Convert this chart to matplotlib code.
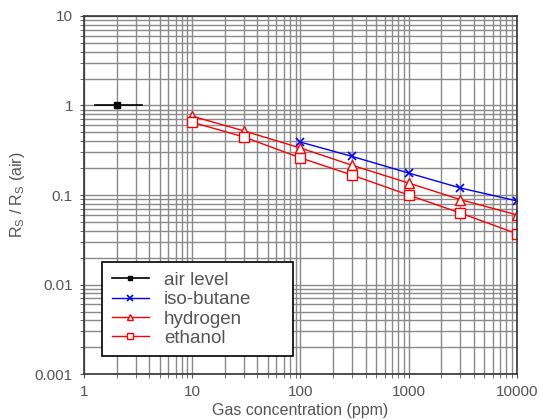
import numpy as np
import matplotlib.pyplot as plt

plt.rcParams['font.family'] = ['Liberation Sans', 'DejaVu Sans']

# values
air_x = [2]
air_y = [1.0]
air_xerr_lo = [1.26]
air_xerr_hi = [3.4]

conc_butane = [100, 300, 1000, 3000, 10000]
rs_butane = [0.39, 0.27, 0.176, 0.12, 0.086]

conc_h2 = [10, 30, 100, 300, 1000, 3000, 10000]
rs_h2 = [0.76, 0.52, 0.335, 0.215, 0.136, 0.089, 0.06]

conc_etoh = [10, 30, 100, 300, 1000, 3000, 10000]
rs_etoh = [0.65, 0.445, 0.26, 0.167, 0.10, 0.063, 0.037]

xticks = [1, 10, 100, 1000, 10000]
yticks = [0.001, 0.01, 0.1, 1, 10]

fig = plt.figure(figsize=(5.39, 4.19), dpi=100)
ax = fig.add_axes([0.156, 0.107, 0.803, 0.855])
ax.set_xscale("log")
ax.set_yscale("log")
ax.set_xlim(1, 10000)
ax.set_ylim(0.001, 10)

ax.grid(True, which="both", color="#8a8a8a", lw=1.0)
ax.set_axisbelow(True)

# air level: a short horizontal bar around the marker
ax.plot([air_xerr_lo[0], air_xerr_hi[0]], [air_y[0], air_y[0]], color="black", lw=1.2)
ax.plot(air_x, air_y, color="black", marker="s", ms=4, lw=1.2, label="air level")

ax.plot(conc_butane, rs_butane, color="blue", marker="x", ms=6, mew=1.2, lw=1.0, label="iso-butane")
ax.plot(conc_h2, rs_h2, color="red", marker="^", ms=7, mfc="white", mew=1.0, lw=1.0, label="hydrogen")
ax.plot(conc_etoh, rs_etoh, color="red", marker="s", ms=7, mfc="white", mew=1.0, lw=1.0, label="ethanol")

ax.set_xticks(xticks)
ax.set_xticklabels(["1", "10", "100", "1000", "10000"])
ax.set_yticks(yticks)
ax.set_yticklabels(["0.001", "0.01", "0.1", "1", "10"])
ax.tick_params(which="both", direction="out", length=3, color="#555555", labelcolor="#555555",
               labelsize=11, pad=5)
ax.tick_params(which="minor", labelleft=False, labelbottom=False)
for s in ax.spines.values():
    s.set_color("#333333")
    s.set_linewidth(1.2)

ax.set_xlabel("Gas concentration (ppm)", color="#555555", fontsize=11.5, labelpad=3)
ax.set_ylabel("R$_\\mathregular{S}$ / R$_\\mathregular{S}$ (air)", color="#555555", fontsize=11.5,
              labelpad=6)

leg = ax.legend(loc="lower left", bbox_to_anchor=(0.042, 0.05, 0.441, 0.27), mode="expand",
                borderaxespad=0, fancybox=False, framealpha=1, edgecolor="black", fontsize=13.5,
                handlelength=2.0, labelspacing=0.12, borderpad=0.5, markerscale=0.7,
                labelcolor="#555555")
leg.get_frame().set_linewidth(1.2)

fig.savefig("out.png")
